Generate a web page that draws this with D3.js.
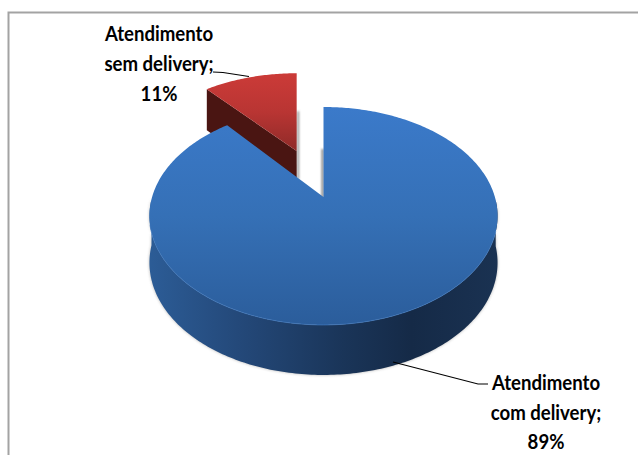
<!DOCTYPE html>
<html><head><meta charset="utf-8">
<script src="https://cdn.jsdelivr.net/npm/d3@7/dist/d3.min.js"></script>
<style>html,body{margin:0;padding:0;background:#fff}svg{display:block}</style>
</head><body><svg id="c" width="638" height="455"></svg>
<script>
const categories = ["Atendimento com delivery", "Atendimento sem delivery"];
const values = [89, 11];
const labelLines = [["Atendimento","com delivery;","89%"],["Atendimento","sem delivery;","11%"]];

const svg=d3.select("#c");
const defs=svg.append("defs");

// perspective projection of the pie's plane
const cfg={cx:323.5,apexY:197,R:171.4,a:71.4,c:-0.174,explode:0.5};
function proj(u,v){const d=1+cfg.c*v;return [cfg.cx+cfg.R*u/d,(cfg.apexY+cfg.a*v)/d];}
function depth(v){return 46+4*v;}
const pie=d3.pie().sort(null).startAngle(0).endAngle(2*Math.PI)(values);

function arcPts(s,e,ou,ov,n=160){
  const apexX=proj(ou,ov)[0];
  return d3.range(n+1).map(i=>{const t=s+(e-s)*i/n;const u=ou+Math.sin(t),v=ov-Math.cos(t);const p=proj(u,v);
    return [apexX+cfg.R*Math.sin(t)/(1+cfg.c*v),p[1],v];});
}
const line=d3.line();

function vgrad(id,stops,y1,y2){const g=defs.append("linearGradient").attr("id",id).attr("gradientUnits","userSpaceOnUse").attr("x1",0).attr("x2",0).attr("y1",y1).attr("y2",y2);
 stops.forEach(s=>g.append("stop").attr("offset",s[0]).attr("stop-color",s[1]));}
function hgrad(id,stops,x1,x2){const g=defs.append("linearGradient").attr("id",id).attr("gradientUnits","userSpaceOnUse").attr("y1",0).attr("y2",0).attr("x1",x1).attr("x2",x2);
 stops.forEach(s=>g.append("stop").attr("offset",s[0]).attr("stop-color",s[1]));}
vgrad("blueTop",[[0,"#3b7aca"],[0.5,"#3570b6"],[1,"#2b5d9b"]],107,325);
hgrad("blueSide",[[0,"#2c5c96"],[0.25,"#24497a"],[0.55,"#1a3559"],[0.75,"#152a47"],[1,"#1a3252"]],150,499);
vgrad("redTop",[[0,"#cc3b38"],[0.5,"#b93533"],[1,"#8e2a28"]],72,152);
const blur=defs.append("filter").attr("id","sh").attr("x","-10%").attr("y","-10%").attr("width","120%").attr("height","120%");
blur.append("feGaussianBlur").attr("stdDeviation",1.6);
const blur2=defs.append("filter").attr("id","sh2").attr("filterUnits","userSpaceOnUse").attr("x",0).attr("y",0).attr("width",638).attr("height",455);
blur2.append("feGaussianBlur").attr("stdDeviation",0.9);

// chart frame
svg.append("path").attr("d",line([[8.5,455],[8.5,12.5],[638,12.5]])).attr("fill","none").attr("stroke","#a3a3a3").attr("stroke-width",2);

// red slice
const rs=pie[1];
const mid=(rs.startAngle+rs.endAngle)/2;
const ou=Math.sin(mid)*cfg.explode, ov=-Math.cos(mid)*cfg.explode;
const redArc=arcPts(rs.startAngle,rs.endAngle,ou,ov,50);
const redApex=proj(ou,ov);
const low=p=>[p[0],p[1]+depth(p[2])];
const g=svg.append("g");
const A=redArc[0];
const Z=redArc[redArc.length-1];
const apex3=[...redApex,ov];
// soft shadow along the cut side of the red slice
g.append("path").attr("d",line([[Z[0]+1.5,Z[1]+38],[Z[0]+1.5,redApex[1]+28]])).attr("stroke","#8a8a8a").attr("stroke-width",1.8).attr("fill","none").attr("filter","url(#sh2)");
g.append("path").attr("d",line([A,redApex,low(apex3),low(A)].map(p=>[p[0],p[1]]))+"Z").attr("fill","#4a1512");
g.append("path").attr("d",line([...redArc.map(p=>[p[0],p[1]]),redApex])+"Z").attr("fill","url(#redTop)");

// blue slice
const bs=pie[0];
const blueArc=arcPts(bs.startAngle,bs.endAngle,0,0,360);
const blueApex=proj(0,0);
const front=blueArc.filter(p=>p[2]>0.02);
const wall=[...front.map(p=>[p[0],p[1]]),...front.slice().reverse().map(low)];
g.append("path").attr("d",line(wall)+"Z").attr("fill","#777").attr("opacity",0.55).attr("filter","url(#sh)");
g.append("path").attr("d",line(wall)+"Z").attr("fill","url(#blueSide)");
g.append("path").attr("d",line([[blueApex[0]-1,blueApex[1]-48],[blueApex[0]-1,blueApex[1]+2]])).attr("stroke","#555").attr("stroke-width",1.6).attr("fill","none").attr("filter","url(#sh2)");
g.append("path").attr("d",line([...blueArc.map(p=>[p[0],p[1]]),blueApex])+"Z").attr("fill","url(#blueTop)");
// highlight rim on the front edge
const rim=arcPts(Math.PI*0.6,Math.PI*1.42,0,0,80).map(p=>[p[0],p[1]]);
g.append("path").attr("d",line(rim)).attr("fill","none").attr("stroke","#3f78bd").attr("stroke-width",1).attr("opacity",.7);

// leader lines
const leaders=[[[488,384],[478,384],[393,362]],[[213,72],[223,72.5],[249,76.5]]];
svg.selectAll("path.leader").data(leaders).join("path").attr("class","leader").attr("d",d=>line(d)).attr("fill","none").attr("stroke","#000").attr("stroke-width",1.1);

// labels
const font='Lato,"Open Sans",sans-serif';
const pos=[{x:546,ys:[390,420,449]},{x:159,ys:[41,71,101]}];
labelLines.forEach((ls,i)=>{
  ls.forEach((t,j)=>{
    svg.append("text").attr("transform",`translate(${pos[i].x},${pos[i].ys[j]}) scale(0.93,1)`).attr("text-anchor","middle")
      .attr("font-family",font).attr("font-weight",700).attr("font-size",20).attr("fill","#000").text(t);
  });
});
</script></body></html>
